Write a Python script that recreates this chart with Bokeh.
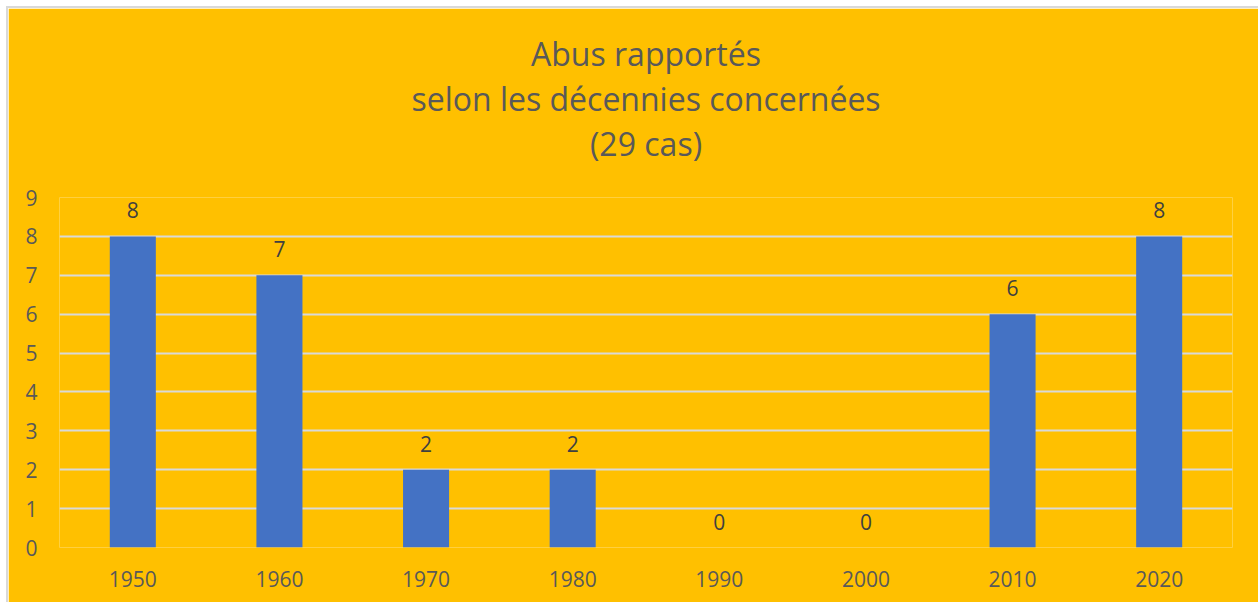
from bokeh.plotting import figure
from bokeh.models import ColumnDataSource, LabelSet, FactorRange, Title, SingleIntervalTicker
from bokeh.core.properties import value
from bokeh.embed import file_html
from bokeh.resources import INLINE

decades = ["1950", "1960", "1970", "1980", "1990", "2000", "2010", "2020"]
counts = [8, 7, 2, 2, 0, 0, 6, 8]
title_lines = ["Abus rapportés", "selon les décennies concernées", "(29 cas)"]

ORANGE = "#FFC000"
GRAY = "#595959"
FONT = "Open Sans"

src = ColumnDataSource(dict(x=decades, y=counts, lbl=[str(c) for c in counts]))

p = figure(x_range=FactorRange(factors=decades, range_padding=0), y_range=(0, 9),
           width=1250, height=594, output_backend="svg", toolbar_location=None,
           min_border_left=51, min_border_right=26, min_border_top=189, min_border_bottom=55)
p.margin = (8, 0, 0, 8)
p.background_fill_color = ORANGE
p.border_fill_color = ORANGE
p.outline_line_color = None
p.styles = {"box-shadow": "0 0 0 2px #d9d9d9"}

p.vbar(x="x", top="y", width=0.314, source=src, fill_color="#4472C4", line_color=None)

labels = LabelSet(x="x", y="y", text="lbl", source=src, text_align="center",
                  text_baseline="alphabetic", y_offset=18, text_color="#404040",
                  text_font_size="21px", text_font=value(FONT))
p.add_layout(labels)

p.yaxis.ticker = SingleIntervalTicker(interval=1)
for ax in (p.xaxis[0], p.yaxis[0]):
    ax.axis_line_color = None
    ax.major_tick_line_color = None
    ax.minor_tick_line_color = None
    ax.major_label_text_color = GRAY
    ax.major_label_text_font = FONT
    ax.major_label_text_font_size = "21px"
p.yaxis.major_label_standoff = 16
p.xaxis.major_label_standoff = 17

p.xgrid.grid_line_color = None
p.ygrid.grid_line_color = "#D9D9D9"
p.ygrid.grid_line_width = 2

# spacer between the title block and the plot frame
p.add_layout(Title(text=" ", text_font_size="28px", standoff=0, text_color=ORANGE), "above")
for line in reversed(title_lines):
    t = Title(text=line, align="center", text_font=FONT, text_font_size="32px",
              text_color=GRAY, text_font_style="normal", standoff=0)
    p.add_layout(t, "above")

open("out.html", "w").write(file_html(p, INLINE))
